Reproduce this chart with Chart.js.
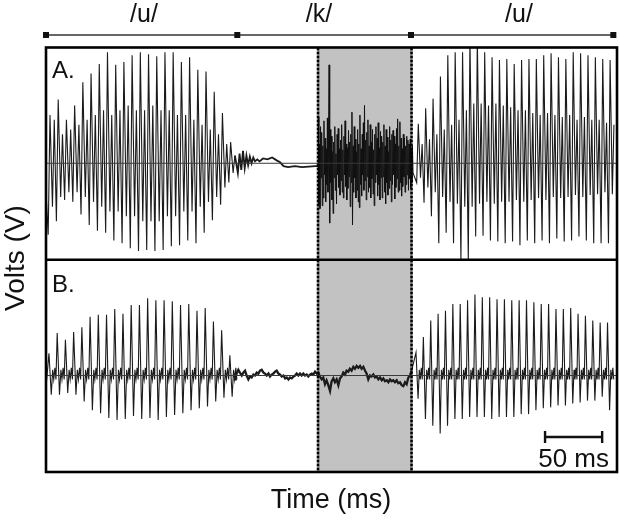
<!DOCTYPE html>
<html><head><meta charset="utf-8">
<script src="https://cdn.jsdelivr.net/npm/chart.js@4.4.0/dist/chart.umd.min.js"></script>
<style>html,body{margin:0;padding:0;background:#fff;}#wrap{position:relative;width:620px;height:523px;}</style>
</head><body><div id="wrap"><canvas id="c" width="620" height="523"></canvas></div>
<script>
// ---------- data (time in ms, amplitude in V, arbitrary units) ----------
const segmentLabels = ['/u/', '/k/', '/u/'];
const segmentLabelTimes = [85.8, 239.1, 414.2];
const segmentBounds = [0, 167.5, 319.6, 496.8];
const closureSpan = [238.2, 320.1];
const scaleBar = [437, 487];
const scaleBarLabel = '50 ms';
const panelLabels = ['A.', 'B.'];
const xTitle = 'Time (ms)';
const yTitle = 'Volts (V)';

// Panel A, first vowel: per-cycle peaks
const a1Start = 3.5, a1Period = 7.19;
const a1Max = [0.50,0.66,0.45,0.60,0.84,0.93,1.03,1.15,1.02,1.05,1.12,1.15,1.13,1.11,1.15,1.15,1.05,1.10,0.97,0.95,0.74,0.52,0.22];
const a1Min = [-0.74,-0.60,-0.38,-0.40,-0.53,-0.64,-0.70,-0.72,-0.80,-0.83,-0.88,-0.91,-0.90,-0.91,-0.90,-0.86,-0.85,-0.80,-0.83,-0.72,-0.59,-0.43,-0.20];
const a1SecMax = [0.45,0.30,0.35,0.40,0.45,0.50,0.55,0.50,0.55,0.60,0.55,0.55,0.60,0.55,0.55,0.50,0.50,0.45,0.40,0.35,0.30,0.20,0.08];
const a1SecMin = [-0.45,-0.35,-0.30,-0.30,-0.35,-0.40,-0.45,-0.50,-0.50,-0.55,-0.55,-0.60,-0.60,-0.60,-0.55,-0.55,-0.50,-0.50,-0.45,-0.40,-0.35,-0.25,-0.10];

// Panel A, decay after voicing and closure (time, value)
const aRing = [[168,-0.10],[169.5,0.10],[171,-0.07],[172.5,0.13],[174,-0.05],[175.5,0.08],[177,-0.02],[178.5,0.07],[180,0.0],[181.5,0.06],[183,0.02],[185,0.04],[187,0.02],[190,0.05],[194,0.04],[198,0.06],[202,0.03],[205,0.01],[208,-0.03],[212,-0.04],[218,-0.03],[224,-0.04],[230,-0.035],[236,-0.03],[238.4,-0.03]];

// Panel A, /k/ burst noise, sampled every 0.5 ms from 238.4 ms
const aNoiseStart = 238.4, aNoiseStep = 0.5;
const aNoise = [
 0.48,-0.42,0.20,-0.47,0.38,-0.15,0.32,-0.44,
 0.18,-0.36,0.44,-0.12,0.26,-0.40,0.15,-0.22,0.47,-0.30,0.20,
 1.02,-0.62,0.35,
 -0.20,0.28,-0.38,0.12,-0.52,0.22,-0.15,0.38,-0.28,0.10,-0.42,0.30,-0.12,0.36,-0.25,0.15,-0.33,0.24,
 -0.18,0.40,-0.30,0.14,-0.36,0.28,-0.12,0.44,-0.24,0.20,-0.38,0.16,-0.26,0.34,-0.14,0.22,-0.45,0.30,
 -0.20,0.53,-0.64,0.18,-0.30,0.38,-0.15,0.25,-0.36,0.12,-0.28,0.35,-0.40,0.20,-0.46,0.50,-0.22,0.15,
 -0.34,0.30,-0.12,0.42,-0.28,0.60,-0.18,0.24,-0.38,0.32,-0.14,0.45,-0.30,0.18,-0.25,0.40,-0.36,0.22,
 -0.16,0.35,-0.32,0.14,-0.44,0.30,-0.20,0.38,-0.12,0.26,-0.34,0.42,-0.22,0.16,-0.38,0.33,-0.15,0.28,
 -0.36,0.22,-0.14,0.40,-0.30,0.18,-0.42,0.35,-0.20,0.27,-0.33,0.12,-0.26,0.38,-0.18,0.24,-0.40,0.30,
 -0.22,0.34,-0.12,0.28,-0.37,0.20,-0.25,0.36,-0.16,0.46,-0.30,0.18,-0.28,0.43,-0.20,0.26,-0.34,0.15,
 -0.24,0.30,-0.14,0.26,-0.30,0.18,-0.22,0.28,-0.12,0.24,-0.28,0.20,-0.16,0.25,-0.26,0.14,-0.20,0.18,-0.10];

// Panel A, second vowel
const a2Start = 326.0, a2Period = 6.46;
const a2Max = [0.41,0.57,0.67,0.90,1.12,1.15,1.15,1.30,1.30,1.15,1.10,1.07,1.08,1.03,1.07,1.08,1.08,1.12,1.14,1.10,1.08,1.15,1.14,1.12,1.10,1.08,1.07];
const a2Min = [-0.20,-0.41,-0.55,-0.83,-0.72,-0.83,-1.00,-1.00,-0.76,-0.75,-0.80,-0.81,-0.83,-0.81,-0.85,-0.80,-0.83,-0.80,-0.83,-0.78,-0.81,-0.80,-0.76,-0.80,-0.83,-0.83,-0.83];
const a2SecMax = [0.20,0.25,0.30,0.35,0.40,0.45,0.55,0.62,0.62,0.60,0.62,0.60,0.58,0.55,0.55,0.52,0.50,0.52,0.50,0.48,0.50,0.45,0.48,0.45,0.45,0.42,0.40];
const a2SecMin = [-0.15,-0.25,-0.30,-0.35,-0.40,-0.42,-0.45,-0.45,-0.42,-0.40,-0.42,-0.40,-0.40,-0.38,-0.40,-0.38,-0.36,-0.38,-0.35,-0.36,-0.35,-0.33,-0.35,-0.33,-0.32,-0.30,-0.32];

// Panel B, first vowel
const b1Start = 2.6, b1Period = 7.2;
const b1Max = [0.23,0.44,0.37,0.45,0.50,0.61,0.63,0.63,0.69,0.64,0.73,0.73,0.80,0.78,0.78,0.77,0.73,0.74,0.67,0.70,0.56,0.47,0.21];
const b1Min = [-0.20,-0.20,-0.18,-0.20,-0.27,-0.36,-0.39,-0.44,-0.46,-0.45,-0.42,-0.45,-0.44,-0.46,-0.43,-0.41,-0.39,-0.36,-0.34,-0.32,-0.27,-0.23,-0.22];
const bWiggle = [0.06,-0.04,0.08,-0.04];

// Panel B, closure and burst (time, value)
const bMid = [[165.5,-0.04],[166.9,0.02],[168.4,0.06],[169.8,0.03],[171.4,0.0],[172.8,0.03],[174.3,0.05],[175.7,0.0],[177.2,-0.04],[178.6,-0.01],[180.1,-0.02],[181.6,0.01],[183.0,0.0],[184.5,0.03],[186.0,0.02],[187.4,0.05],[188.9,0.06],[190.4,0.03],[191.8,0.02],[193.3,0.0],[194.8,0.02],[196.2,-0.01],[197.6,0.01],[199.1,0.02],[200.6,0.04],[202.0,0.05],[203.5,0.02],[205.0,0.01],[206.4,-0.01],[207.9,0.0],[209.4,-0.03],[210.8,-0.02],[212.3,-0.04],[213.7,-0.02],[215.2,-0.03],[216.7,-0.01],[218.1,0.0],[219.5,0.02],[221.0,0.0],[222.4,0.02],[223.9,0.0],[225.3,0.02],[226.8,0.0],[228.3,0.01],[229.7,-0.01],[231.2,0.01],[232.7,0.02],[234.1,0.01],[235.6,0.04],[237.1,0.02],[238.5,0.03],[239.9,-0.01],[241.4,-0.04],[242.8,-0.02],[244.3,-0.09],[245.7,-0.05],[247.2,-0.10],[248.7,-0.16],[250.1,-0.06],[251.6,-0.03],[253.0,-0.07],[254.5,-0.04],[256.0,-0.10],[257.4,-0.03],[258.9,-0.01],[260.3,0.03],[261.8,0.01],[263.2,0.05],[264.7,0.04],[266.1,0.07],[267.6,0.05],[269.1,0.09],[270.5,0.07],[272.0,0.10],[273.5,0.08],[275.0,0.10],[276.4,0.07],[277.9,0.09],[279.4,0.05],[280.8,0.02],[282.2,-0.04],[283.7,0.0],[285.1,-0.01],[286.6,0.01],[288.1,-0.02],[289.5,-0.01],[291.0,-0.04],[292.5,-0.02],[294.0,-0.05],[295.4,-0.03],[296.9,-0.06],[298.4,-0.05],[299.8,-0.07],[301.2,-0.04],[302.7,-0.06],[304.1,-0.05],[305.6,-0.07],[307.1,-0.05],[308.5,-0.08],[310.0,-0.07],[311.4,-0.10],[312.9,-0.11],[314.4,-0.07],[315.8,-0.09],[317.3,-0.02],[318.7,0.0],[320.2,0.05]];

// Panel B, second vowel
const b2Start = 324.0, b2Period = 6.45;
const b2Max = [0.24,0.40,0.57,0.64,0.67,0.74,0.74,0.78,0.84,0.81,0.81,0.79,0.79,0.78,0.78,0.78,0.76,0.74,0.74,0.69,0.69,0.70,0.64,0.62,0.57,0.55,0.55];
const b2Min = [-0.24,-0.45,-0.52,-0.60,-0.52,-0.45,-0.45,-0.43,-0.43,-0.43,-0.45,-0.43,-0.43,-0.43,-0.40,-0.40,-0.36,-0.34,-0.33,-0.31,-0.31,-0.29,-0.28,-0.26,-0.26,-0.22,-0.36];

// ---------- build point lists ----------
function cyclesA(t0, P, mx, mn, sMx, sMn) {
  const pts = [];
  for (let k = 0; k < mx.length; k++) {
    const tp = t0 + k * P;
    pts.push({x: tp - 0.22 * P, y: mn[k]});
    pts.push({x: tp, y: mx[k]});
    pts.push({x: tp + 0.3 * P, y: sMn[k]});
    pts.push({x: tp + 0.52 * P, y: sMx[k]});
  }
  return pts;
}
function cyclesB(t0, P, mx, mn) {
  const pts = [];
  for (let k = 0; k < mx.length; k++) {
    const tp = t0 + k * P;
    pts.push({x: tp, y: mx[k]});
    pts.push({x: tp + 0.28 * P, y: mn[k]});
    pts.push({x: tp + 0.45 * P, y: bWiggle[0]});
    pts.push({x: tp + 0.58 * P, y: bWiggle[1]});
    pts.push({x: tp + 0.72 * P, y: bWiggle[2]});
    pts.push({x: tp + 0.85 * P, y: bWiggle[3]});
  }
  return pts;
}
const pairs = arr => arr.map(p => ({x: p[0], y: p[1]}));

const aV1 = [{x: 0, y: -0.3}].concat(cyclesA(a1Start, a1Period, a1Max, a1Min, a1SecMax, a1SecMin));
const aR = pairs(aRing);
const aN = aNoise.map((v, i) => ({x: aNoiseStart + i * aNoiseStep, y: v}));
const aV2 = cyclesA(a2Start, a2Period, a2Max, a2Min, a2SecMax, a2SecMin);
aV2.unshift(aN[aN.length - 1]);
aR.unshift(aV1[aV1.length - 1]);
const bV1 = [{x: 0, y: -0.12}].concat(cyclesB(b1Start, b1Period, b1Max, b1Min));
const bM = pairs(bMid);
bM.unshift(bV1[bV1.length - 1]);
const bV2 = cyclesB(b2Start, b2Period, b2Max, b2Min);
bV2.unshift(bM[bM.length - 1]);

const WAVE = '#1b1b1b';
function ds(data, axis, w, color) {
  return {data, yAxisID: axis, xAxisID: 'x', borderColor: color || WAVE, borderWidth: w, pointRadius: 0, tension: 0, fill: false};
}

// ---------- decorations ----------
const FONT = '"Liberation Sans", Arial, sans-serif';
const decor = {
  id: 'decor',
  beforeDatasetsDraw(chart) {
    const {ctx, chartArea: a, scales: {x}} = chart;
    const x1 = x.getPixelForValue(closureSpan[0]), x2 = x.getPixelForValue(closureSpan[1]);
    ctx.save();
    ctx.fillStyle = '#c2c2c2';
    ctx.fillRect(x1, a.top, x2 - x1, a.bottom - a.top);
    ctx.restore();
  },
  afterDatasetsDraw(chart) {
    const {ctx, chartArea: a, scales: {x, yA}} = chart;
    ctx.save();
    ctx.strokeStyle = '#000';
    ctx.lineWidth = 2.6;
    ctx.setLineDash([3, 1]);
    closureSpan.forEach(t => {
      const px = x.getPixelForValue(t);
      ctx.beginPath(); ctx.moveTo(px, a.top); ctx.lineTo(px, a.bottom); ctx.stroke();
    });
    ctx.setLineDash([]);
    ctx.lineWidth = 2.6;
    ctx.strokeRect(a.left, a.top, a.right - a.left, a.bottom - a.top);
    const yd = yA.getPixelForValue(-1);
    ctx.beginPath(); ctx.moveTo(a.left, yd); ctx.lineTo(a.right, yd); ctx.stroke();
    // segment bar
    const yb = a.top - 12.5;
    ctx.strokeStyle = '#333'; ctx.lineWidth = 1.4;
    ctx.beginPath();
    ctx.moveTo(x.getPixelForValue(segmentBounds[0]), yb);
    ctx.lineTo(x.getPixelForValue(segmentBounds[segmentBounds.length - 1]), yb);
    ctx.stroke();
    ctx.fillStyle = '#111';
    segmentBounds.forEach(t => { const px = x.getPixelForValue(t); ctx.fillRect(px - 3, yb - 3, 6, 6); });
    ctx.font = '25px ' + FONT;
    ctx.textAlign = 'center'; ctx.textBaseline = 'alphabetic';
    segmentLabels.forEach((s, i) => ctx.fillText(s, x.getPixelForValue(segmentLabelTimes[i]), 22));
    // panel labels
    ctx.textAlign = 'left';
    ctx.font = '24px ' + FONT;
    ctx.fillText(panelLabels[0], 52, 78);
    ctx.fillText(panelLabels[1], 52, 292);
    // scale bar
    const s1 = x.getPixelForValue(scaleBar[0]), s2 = x.getPixelForValue(scaleBar[1]);
    ctx.strokeStyle = '#111'; ctx.lineWidth = 2.4;
    ctx.beginPath();
    ctx.moveTo(s1, 437); ctx.lineTo(s2, 437);
    ctx.moveTo(s1, 431); ctx.lineTo(s1, 443);
    ctx.moveTo(s2, 431); ctx.lineTo(s2, 443);
    ctx.stroke();
    ctx.textAlign = 'center';
    ctx.font = '26px ' + FONT;
    ctx.fillText(scaleBarLabel, (s1 + s2) / 2, 467);
    // axis titles
    ctx.font = '27px ' + FONT;
    ctx.fillText(xTitle, 331, 508);
    ctx.translate(24, 258); ctx.rotate(-Math.PI / 2);
    ctx.font = '28px ' + FONT;
    ctx.fillText(yTitle, 0, 0);
    ctx.restore();
  }
};

new Chart(document.getElementById('c'), {
  type: 'line',
  data: {datasets: [
    ds([{x: 0, y: 0}, {x: 500, y: 0}], 'yA', 1, '#3a3a3a'),
    ds([{x: 0, y: 0}, {x: 500, y: 0}], 'yB', 1, '#3a3a3a'),
    ds(aV1, 'yA', 1.1), ds(aR, 'yA', 1.8), ds(aN, 'yA', 1.0, '#111'), ds(aV2, 'yA', 1.1),
    ds(bV1, 'yB', 1.1), ds(bM, 'yB', 2.3), ds(bV2, 'yB', 1.1)
  ]},
  options: {
    responsive: false, animation: false, devicePixelRatio: 1,
    layout: {padding: {left: 46, right: 3, top: 47.5, bottom: 51}},
    plugins: {legend: {display: false}, tooltip: {enabled: false}},
    scales: {
      x: {type: 'linear', min: 0, max: 500, display: false},
      yA: {type: 'linear', min: -3.2, max: 1.2, display: false},
      yB: {type: 'linear', min: -1, max: 3.4, display: false}
    }
  },
  plugins: [decor]
});
</script></body></html>
